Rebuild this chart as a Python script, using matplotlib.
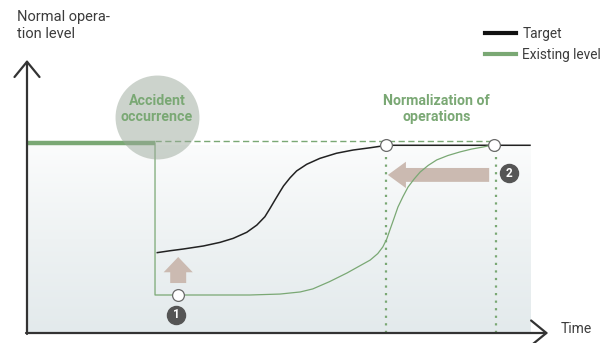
import matplotlib.pyplot as plt
from matplotlib.colors import LinearSegmentedColormap
from matplotlib.patches import FancyArrowPatch
from matplotlib.lines import Line2D
import numpy as np

# Eje de tiempo (0-100) y nivel de operacion (100 = nivel normal)
nivel_normal = 100
t_accidente = 25.4
t_meta = 71.2
t_existente = 92.6

# Curva objetivo (Target)
meta_t = [25.85, 28.4, 31.0, 35.0, 38.3, 40.9, 43.6, 45.6, 47.2, 48.2, 49.2, 50.2, 50.9,
          52.2, 53.5, 55.5, 58.1, 61.4, 64.7, 68.1, 70.4, 71.2, 99.8]
meta_nivel = [42.3, 43.3, 44.2, 45.8, 47.7, 49.8, 53.0, 56.8, 61.2, 65.5, 70.0, 74.4, 77.4,
              81.7, 85.3, 88.8, 91.9, 94.6, 96.3, 97.5, 98.4, 98.8, 98.8]

# Nivel existente: tramo normal y recuperacion
existente_t = [25.4, 25.4, 44.2, 50.2, 54.2, 56.7, 60.0, 63.5, 66.0, 68.1, 69.6, 70.6, 71.4, 72.0,
               72.8, 73.6, 74.6, 75.6, 76.8, 78.0, 79.6, 81.3, 83.5, 85.9, 88.2, 90.5, 92.3]
existente_nivel = [100, 20.0, 20.0, 20.5, 21.6, 23.2, 27.0, 31.6, 35.3, 38.4, 41.8, 45.3, 49.6, 54.2,
                   60.2, 66.3, 71.8, 76.8, 81.0, 84.7, 88.2, 91.1, 93.4, 95.3, 96.8, 97.9, 98.9]

# Puntos marcados
puntos_t = [t_meta, t_existente, 30.0]
puntos_nivel = [99.2, 99.2, 20.0]

verde = "#7aa874"
gris_texto = "#3c3c3c"

PX_T = 5.04  # pixeles por unidad de tiempo
PX_N = 1.9   # pixeles por unidad de nivel

fig = plt.figure(figsize=(6.13, 3.43), dpi=100)
ax = fig.add_axes([0, 0, 1, 1])
ax.set_xlim(-27 / PX_T, (613 - 27) / PX_T)
ax.set_ylim(-(343 - 333) / PX_N, 333 / PX_N)
ax.axis("off")

# fondo degradado
cmap = LinearSegmentedColormap.from_list("fondo", ["#fbfcfc", "#eef2f3", "#e3eaec"])
grad = np.linspace(0, 1, 256).reshape(-1, 1)
ax.imshow(grad, extent=[0, 100, 0, 98.9], cmap=cmap, aspect="auto", zorder=0)

# lineas punteadas verticales
for t in [t_meta, t_existente + 0.4]:
    ax.plot([t, t], [0, 96], color=verde, lw=1.6, ls=(0, (1, 2.4)), zorder=2)

# nivel normal discontinuo
ax.plot([t_accidente, t_existente], [101, 101], color=verde, lw=1, ls=(0, (4.5, 2.5)), zorder=2)

# flechas
flecha1 = FancyArrowPatch((30.0, 26.3), (30.0, 40.0),
                          arrowstyle="simple,head_width=21,head_length=11,tail_width=11.5",
                          mutation_scale=1, color="#cbbab1", lw=0, shrinkA=0, shrinkB=0, zorder=2.5)
flecha2 = FancyArrowPatch((91.7, 83.2), (71.6, 83.2),
                          arrowstyle="simple,head_width=19,head_length=13,tail_width=10",
                          mutation_scale=1, color="#cbbab1", lw=0, shrinkA=0, shrinkB=0, zorder=2.5)
ax.add_patch(flecha1)
ax.add_patch(flecha2)

# curvas
ax.plot(meta_t, meta_nivel, color="#222222", lw=1.1, zorder=3)
ax.plot(existente_t, existente_nivel, color=verde, lw=0.9, zorder=3)
ax.plot([0, t_accidente], [nivel_normal, nivel_normal], color=verde, lw=3.2,
        solid_capstyle="butt", zorder=3)

# circulo de accidente
ax.scatter([25.8], [113.7], s=3650, color="#9aa89a", alpha=0.5, lw=0, zorder=4)
ax.text(25.8, 118, "Accident\noccurrence", ha="center", va="center", color=verde,
        fontsize=10.2, fontweight="bold", family="Roboto", linespacing=1.2, zorder=5)
ax.text(81.3, 118, "Normalization of\noperations", ha="center", va="center", color=verde,
        fontsize=10.2, fontweight="bold", family="Roboto", linespacing=1.2, zorder=5)

# circulos blancos
ax.plot(puntos_t, puntos_nivel, "o", ms=8.5, mfc="white", mec="#6a6a6a", mew=0.9, zorder=6)

# numeros
for t, n, txt in [(29.6, 9.5, "1"), (95.6, 84.2, "2")]:
    ax.plot([t], [n], "o", ms=13, color="#555555", zorder=6)
    ax.text(t, n, txt, ha="center", va="center", color="white", fontsize=8.5,
            fontweight="bold", family="Roboto", zorder=7)

# ejes con flechas
ax.annotate("", xy=(0, 143.7), xytext=(0, -0.5),
            arrowprops=dict(arrowstyle="->,head_length=0.55,head_width=0.45", lw=1.6,
                            color="#333333", mutation_scale=20, shrinkA=0, shrinkB=0), zorder=8)
ax.annotate("", xy=(103.4, 0), xytext=(-0.2, 0),
            arrowprops=dict(arrowstyle="->,head_length=0.55,head_width=0.45", lw=1.6,
                            color="#333333", mutation_scale=20, shrinkA=0, shrinkB=0), zorder=8)

ax.text(-2.0, 170, "Normal opera-\ntion level", ha="left", va="top", color=gris_texto,
        fontsize=10.5, family="Roboto", linespacing=1.25)
ax.text(105.9, 2.2, "Time", ha="left", va="center", color=gris_texto, fontsize=10, family="Roboto")

# leyenda
handles = [Line2D([], [], color="#111111", lw=3),
           Line2D([], [], color=verde, lw=3)]
fig.legend(handles, ["Target", "Existing level"], loc="upper left",
           bbox_to_anchor=(478 / 613, 1 - 20 / 343), frameon=False, borderpad=0,
           handlelength=2.3, handletextpad=0.45, labelspacing=0.5,
           prop={"family": "Roboto", "size": 9.8}, labelcolor=gris_texto)

plt.savefig("out.png", dpi=100)
